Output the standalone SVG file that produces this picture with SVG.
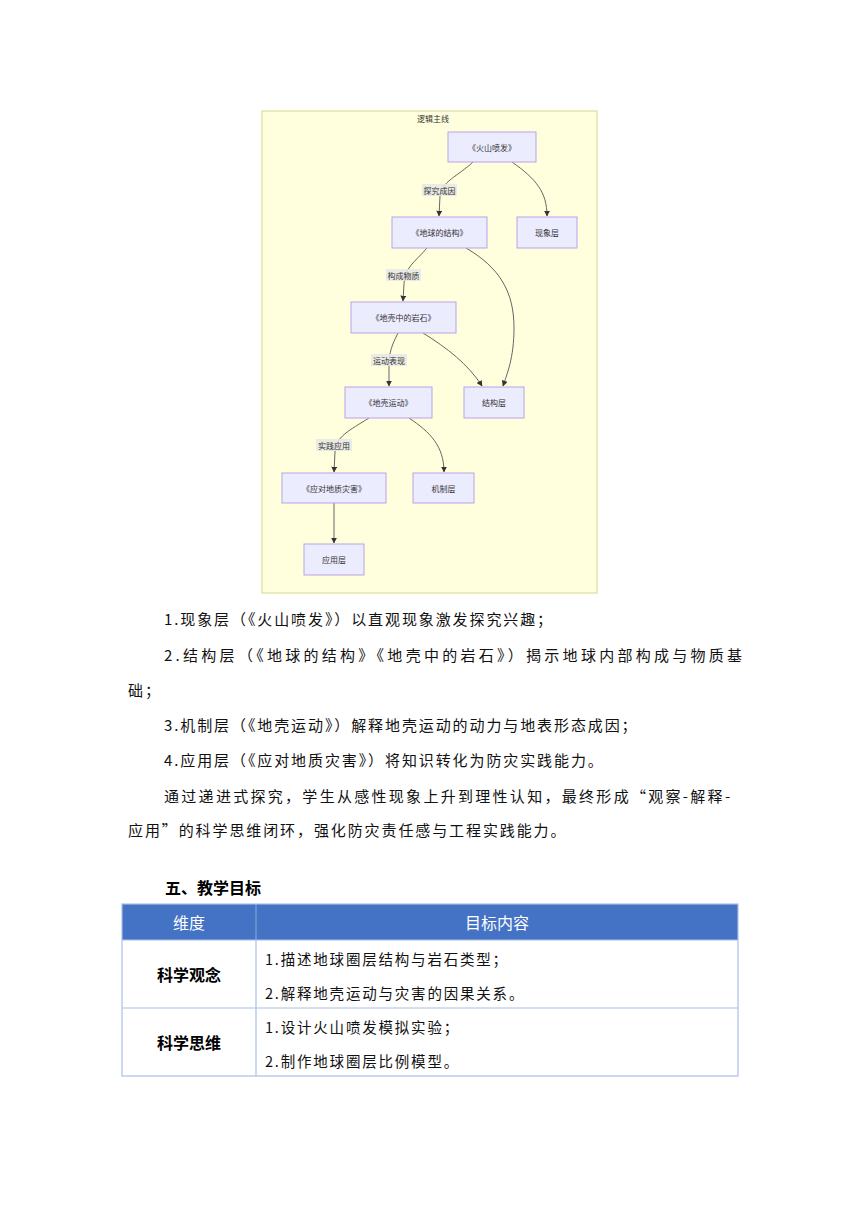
<svg xmlns="http://www.w3.org/2000/svg" width="860" height="1216" viewBox="0 0 860 1216">
<style>
.bg{fill:#ffffff}
.cluster{fill:#ffffde;stroke:#d6d68a;stroke-width:1}
.node rect{fill:#ececff;stroke:#b9a3e8;stroke-width:1}
.nt{font-family:"Noto Sans CJK SC","Noto Sans",sans-serif;font-size:8px;fill:#333;text-anchor:middle;dominant-baseline:central}
.edge{fill:none;stroke:#555;stroke-width:0.9}
.lblbg{fill:#e8e8e8;opacity:0.85}
.p{font-family:"Noto Sans CJK SC","Noto Sans",sans-serif;font-size:15px;fill:#111;letter-spacing:1.9px;dominant-baseline:central}
.h{font-family:"Noto Sans CJK SC","Noto Sans",sans-serif;font-size:16px;font-weight:bold;fill:#000;dominant-baseline:central}
.th{font-family:"Noto Sans CJK SC","Noto Sans",sans-serif;font-size:16px;fill:#fff;text-anchor:middle;dominant-baseline:central}
.rl{font-family:"Noto Sans CJK SC","Noto Sans",sans-serif;font-size:16px;font-weight:bold;fill:#000;text-anchor:middle;dominant-baseline:central}
.td{font-family:"Noto Sans CJK SC","Noto Sans",sans-serif;font-size:14.5px;fill:#111;letter-spacing:1.8px;dominant-baseline:central}
.grid{stroke:#a9bfe6;stroke-width:1.2;fill:none}
</style>
<defs>
<marker id="arr" viewBox="0 0 10 10" refX="9" refY="5" markerWidth="6" markerHeight="6" markerUnits="userSpaceOnUse" orient="auto">
<path d="M0,0 L10,5 L0,10 z" fill="#333"/>
</marker>
</defs>
<rect class="bg" x="0" y="0" width="860" height="1216"/>

<g id="diagram">
<rect class="cluster" x="262" y="111" width="335" height="482"/>
<text class="nt" x="433" y="118">逻辑主线</text>

<g id="connectors">
<path class="edge" d="M473,162 C458,176 441,182 440,196 L439,216" marker-end="url(#arr)"/>
<path class="edge" d="M512,162 C536,179 547,192 547,216" marker-end="url(#arr)"/>
<path class="edge" d="M427,248 C415,262 404,268 404,284 L403,301" marker-end="url(#arr)"/>
<path class="edge" d="M466,248 C500,268 514,292 514,328 C514,358 507,374 503,386" marker-end="url(#arr)"/>
<path class="edge" d="M423,333 C447,348 468,364 482,386" marker-end="url(#arr)"/>
<path class="edge" d="M398,333 C392,345 389,352 389,366 L389,386" marker-end="url(#arr)"/>
<path class="edge" d="M369,418 C350,430 335,437 335,452 L334,472" marker-end="url(#arr)"/>
<path class="edge" d="M409,418 C430,432 444,446 444,472" marker-end="url(#arr)"/>
<path class="edge" d="M334,503 L334,543" marker-end="url(#arr)"/>
<g id="edge-labels">
<rect class="lblbg" x="422" y="184" width="35" height="12"/>
<text class="nt" x="439.5" y="190">探究成因</text>
<rect class="lblbg" x="386" y="269" width="35" height="12"/>
<text class="nt" x="403.5" y="275">构成物质</text>
<rect class="lblbg" x="371" y="354" width="36" height="12"/>
<text class="nt" x="389" y="360">运动表现</text>
<rect class="lblbg" x="316" y="439" width="36" height="12"/>
<text class="nt" x="334" y="445">实践应用</text>
</g>
</g>

<g id="n1" class="node"><rect x="448" y="132" width="88" height="30"/><text class="nt" x="492" y="147">《火山喷发》</text></g>
<g id="n2" class="node"><rect x="392" y="217" width="95" height="31"/><text class="nt" x="439.5" y="232.5">《地球的结构》</text></g>
<g id="n3" class="node"><rect x="517" y="217" width="60" height="31"/><text class="nt" x="547" y="232.5">现象层</text></g>
<g id="n4" class="node"><rect x="351" y="302" width="105" height="31"/><text class="nt" x="403.5" y="317.5">《地壳中的岩石》</text></g>
<g id="n5" class="node"><rect x="345" y="387" width="87" height="31"/><text class="nt" x="388.5" y="402.5">《地壳运动》</text></g>
<g id="n6" class="node"><rect x="464" y="387" width="60" height="31"/><text class="nt" x="494" y="402.5">结构层</text></g>
<g id="n7" class="node"><rect x="282" y="473" width="104" height="30"/><text class="nt" x="334" y="488">《应对地质灾害》</text></g>
<g id="n8" class="node"><rect x="413" y="473" width="61" height="30"/><text class="nt" x="443.5" y="488">机制层</text></g>
<g id="n9" class="node"><rect x="304" y="544" width="60" height="31"/><text class="nt" x="334" y="559.5">应用层</text></g>
</g>

<g id="paragraphs">
<text class="p" x="164" y="618">1.现象层（《火山喷发》）以直观现象激发探究兴趣；</text>
<text class="p" x="164" y="654" textLength="580" lengthAdjust="spacing">2.结构层（《地球的结构》《地壳中的岩石》）揭示地球内部构成与物质基</text>
<text class="p" x="128" y="689">础；</text>
<text class="p" x="164" y="724">3.机制层（《地壳运动》）解释地壳运动的动力与地表形态成因；</text>
<text class="p" x="164" y="759">4.应用层（《应对地质灾害》）将知识转化为防灾实践能力。</text>
<text class="p" x="164" y="795" textLength="568" lengthAdjust="spacing">通过递进式探究，学生从感性现象上升到理性认知，最终形成“观察-解释-</text>
<text class="p" x="128" y="829">应用”的科学思维闭环，强化防灾责任感与工程实践能力。</text>
</g>

<text class="h" x="165" y="887">五、教学目标</text>

<g id="table">
<rect x="122" y="904" width="616" height="36" fill="#4472c4"/>
<line x1="256" y1="904" x2="256" y2="940" stroke="#8eaadb" stroke-width="1"/>
<rect class="grid" x="122" y="904" width="616" height="172"/>
<line class="grid" x1="122" y1="940" x2="738" y2="940"/>
<line class="grid" x1="122" y1="1008" x2="738" y2="1008" stroke-width="2"/>
<line class="grid" x1="256" y1="940" x2="256" y2="1076"/>
<text class="th" x="189" y="922">维度</text>
<text class="th" x="497" y="922">目标内容</text>
<text class="rl" x="189" y="974">科学观念</text>
<text class="td" x="265" y="958">1.描述地球圈层结构与岩石类型；</text>
<text class="td" x="265" y="992">2.解释地壳运动与灾害的因果关系。</text>
<text class="rl" x="189" y="1042">科学思维</text>
<text class="td" x="265" y="1026">1.设计火山喷发模拟实验；</text>
<text class="td" x="265" y="1060">2.制作地球圈层比例模型。</text>
</g>
</svg>
